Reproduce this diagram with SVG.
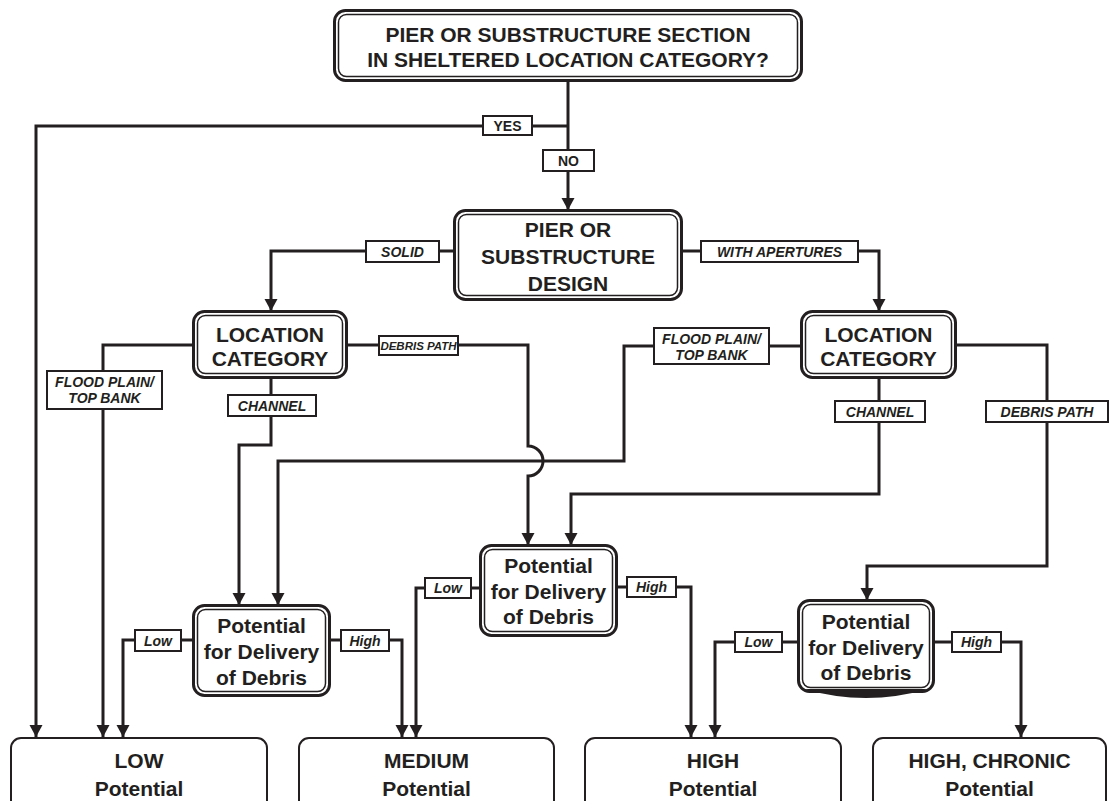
<svg xmlns="http://www.w3.org/2000/svg" width="1116" height="801" viewBox="0 0 1116 801">
  <defs>
    <marker id="arrow" markerUnits="userSpaceOnUse" markerWidth="14" markerHeight="14" viewBox="0 0 14 14" refX="12" refY="7" orient="auto">
      <path d="M0,0.5 L12,7 L0,13.5 Z" fill="#231f20"/>
    </marker>
    <style>
      text { font-family: "Liberation Sans", Arial, Helvetica, sans-serif; fill: #231f20; text-anchor: middle; }
      .node text { font-weight: bold; font-size: 21px; }
      .outer { fill: #fff; stroke: #231f20; stroke-width: 3; }
      .inner { fill: none; stroke: #231f20; stroke-width: 1.5; }
      .result { fill: #fff; stroke: #231f20; stroke-width: 2; }
      .wire { fill: none; stroke: #231f20; stroke-width: 3; stroke-linejoin: miter; }
      .arrowed { marker-end: url(#arrow); }
      .tag { fill: #fff; stroke: #231f20; stroke-width: 2; }
      .tag-text { font-weight: bold; font-style: italic; font-size: 14px; }
      .tag-small { font-size: 11.5px; }
      .tag-plain { font-weight: bold; font-size: 14px; }
    </style>
  </defs>
  <rect width="1116" height="801" fill="#fff"/>

  <!-- connectors -->
  <g id="connectors">
    <path class="wire arrowed" d="M568,81 L568,210"/>
    <path class="wire arrowed" d="M568,126 L36,126 L36,737"/>
    <path class="wire arrowed" d="M453,251 L271,251 L271,311"/>
    <path class="wire arrowed" d="M682,251 L879,251 L879,311"/>
    <path class="wire arrowed" d="M192,345 L103,345 L103,737"/>
    <path class="wire arrowed" d="M271,378 L271,445 L239,445 L239,605"/>
    <path class="wire arrowed" d="M348,345 L528,345 L528,446 A15,15 0 0 1 528,476 L528,545"/>
    <path class="wire arrowed" d="M800,346 L624,346 L624,461 L278,461 L278,605"/>
    <path class="wire arrowed" d="M879,378 L879,494 L571,494 L571,545"/>
    <path class="wire arrowed" d="M957,345 L1047,345 L1047,566 L867,566 L867,600"/>
    <path class="wire arrowed" d="M192,640 L123,640 L123,737"/>
    <path class="wire arrowed" d="M331,640 L402,640 L402,737"/>
    <path class="wire arrowed" d="M479,588 L416,588 L416,737"/>
    <path class="wire arrowed" d="M618,587 L691,587 L691,737"/>
    <path class="wire arrowed" d="M797,642 L715,642 L715,737"/>
    <path class="wire arrowed" d="M935,642 L1021,642 L1021,737"/>

    <!-- branch labels -->
    <g id="labels">
      <rect class="tag" x="483" y="116" width="49" height="19"/>
      <text class="tag-plain" x="507.5" y="131">YES</text>
      <rect class="tag" x="543" y="150" width="51" height="21"/>
      <text class="tag-plain" x="568.5" y="166">NO</text>
      <rect class="tag" x="366" y="241" width="73" height="21"/>
      <text class="tag-text" x="402.5" y="256.5">SOLID</text>
      <rect class="tag" x="701" y="241" width="157" height="21"/>
      <text class="tag-text" x="779.5" y="256.5">WITH APERTURES</text>
      <rect class="tag" x="47" y="371" width="115" height="38"/>
      <text class="tag-text" x="104.5" y="387">FLOOD PLAIN/</text>
      <text class="tag-text" x="104.5" y="403">TOP BANK</text>
      <rect class="tag" x="228" y="395" width="88" height="21"/>
      <text class="tag-text" x="272" y="410.5">CHANNEL</text>
      <rect class="tag" x="379" y="336" width="79" height="19"/>
      <text class="tag-text tag-small" x="418.5" y="349.5">DEBRIS PATH</text>
      <rect class="tag" x="654" y="328" width="115" height="36"/>
      <text class="tag-text" x="711.5" y="344">FLOOD PLAIN/</text>
      <text class="tag-text" x="711.5" y="360">TOP BANK</text>
      <rect class="tag" x="835" y="401" width="90" height="21"/>
      <text class="tag-text" x="880" y="416.5">CHANNEL</text>
      <rect class="tag" x="986" y="401" width="122" height="21"/>
      <text class="tag-text" x="1047" y="416.5">DEBRIS PATH</text>
      <rect class="tag" x="135" y="630" width="46" height="21"/>
      <text class="tag-text" x="158" y="645.5">Low</text>
      <rect class="tag" x="341" y="630" width="48" height="21"/>
      <text class="tag-text" x="365" y="645.5">High</text>
      <rect class="tag" x="425" y="578" width="46" height="20"/>
      <text class="tag-text" x="448" y="593">Low</text>
      <rect class="tag" x="627" y="577" width="49" height="20"/>
      <text class="tag-text" x="651.5" y="592">High</text>
      <rect class="tag" x="735" y="632" width="47" height="20"/>
      <text class="tag-text" x="758.5" y="647">Low</text>
      <rect class="tag" x="952" y="632" width="49" height="20"/>
      <text class="tag-text" x="976.5" y="647">High</text>
    </g>
  </g>

  <!-- decision nodes -->
  <g id="sheltered" class="node">
    <rect class="outer" x="334.5" y="10.5" width="467" height="70" rx="11"/>
    <rect class="inner" x="338.5" y="14.5" width="459" height="62" rx="8"/>
    <text x="568" y="42">PIER OR SUBSTRUCTURE SECTION</text>
    <text x="568" y="67">IN SHELTERED LOCATION CATEGORY?</text>
  </g>

  <g id="design" class="node">
    <rect class="outer" x="454.5" y="210.5" width="227" height="89" rx="11"/>
    <rect class="inner" x="458.5" y="214.5" width="219" height="81" rx="8"/>
    <text x="568" y="237">PIER OR</text>
    <text x="568" y="264">SUBSTRUCTURE</text>
    <text x="568" y="291">DESIGN</text>
  </g>

  <g id="location-solid" class="node">
    <rect class="outer" x="193.5" y="311.5" width="153" height="66" rx="11"/>
    <rect class="inner" x="197.5" y="315.5" width="145" height="58" rx="8"/>
    <text x="270" y="342">LOCATION</text>
    <text x="270" y="366">CATEGORY</text>
  </g>

  <g id="location-apertures" class="node">
    <rect class="outer" x="801.5" y="311.5" width="154" height="66" rx="11"/>
    <rect class="inner" x="805.5" y="315.5" width="146" height="58" rx="8"/>
    <text x="878.5" y="342">LOCATION</text>
    <text x="878.5" y="366">CATEGORY</text>
  </g>

  <g id="delivery-left" class="node">
    <rect class="outer" x="193.5" y="605.5" width="136" height="90" rx="11"/>
    <rect class="inner" x="197.5" y="609.5" width="128" height="82" rx="8"/>
    <text x="261.5" y="633">Potential</text>
    <text x="261.5" y="659">for Delivery</text>
    <text x="261.5" y="685">of Debris</text>
  </g>

  <g id="delivery-middle" class="node">
    <rect class="outer" x="480.5" y="545.5" width="136" height="90" rx="11"/>
    <rect class="inner" x="484.5" y="549.5" width="128" height="82" rx="8"/>
    <text x="548.5" y="573">Potential</text>
    <text x="548.5" y="599">for Delivery</text>
    <text x="548.5" y="624">of Debris</text>
  </g>

  <g id="delivery-right" class="node">
    <rect class="outer" x="798.5" y="600.5" width="135" height="91" rx="11"/>
    <rect class="inner" x="802.5" y="604.5" width="127" height="83" rx="8"/>
    <!-- heavy bottom edge -->
    <path d="M804,689 Q866,707 928,689 Z" fill="#231f20"/>
    <text x="866" y="629">Potential</text>
    <text x="866" y="655">for Delivery</text>
    <text x="866" y="680">of Debris</text>
  </g>

  <!-- outcome nodes -->
  <g id="low" class="node">
    <rect class="result" x="11" y="738" width="256" height="80" rx="10"/>
    <text x="139" y="768">LOW</text>
    <text x="139" y="796">Potential</text>
  </g>
  <g id="medium" class="node">
    <rect class="result" x="299" y="738" width="255" height="80" rx="10"/>
    <text x="426.5" y="768">MEDIUM</text>
    <text x="426.5" y="796">Potential</text>
  </g>
  <g id="high" class="node">
    <rect class="result" x="585" y="738" width="256" height="80" rx="10"/>
    <text x="713" y="768">HIGH</text>
    <text x="713" y="796">Potential</text>
  </g>
  <g id="high-chronic" class="node">
    <rect class="result" x="873" y="738" width="233" height="80" rx="10"/>
    <text x="989.5" y="768">HIGH, CHRONIC</text>
    <text x="989.5" y="796">Potential</text>
  </g>
</svg>
